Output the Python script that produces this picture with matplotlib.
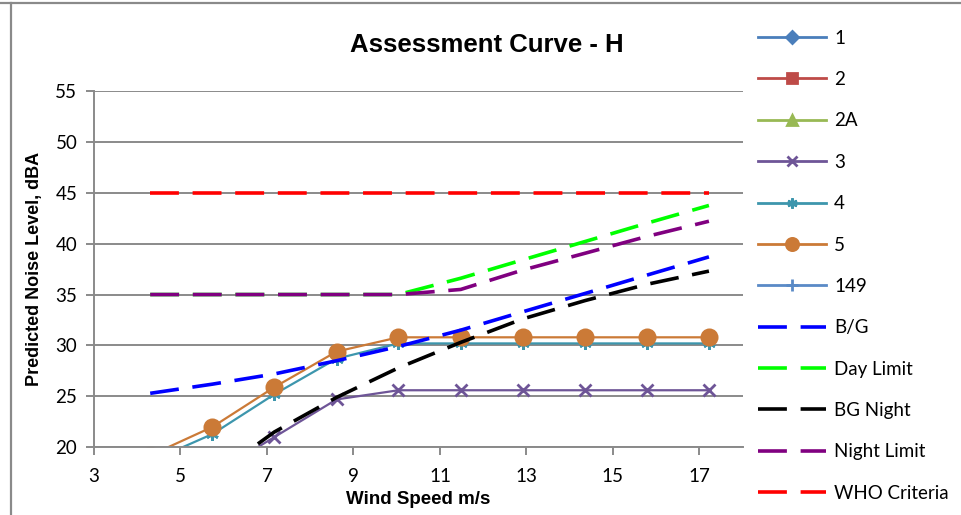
import matplotlib.pyplot as plt
from matplotlib.lines import Line2D

plt.rcParams['font.family'] = ['Lato', 'DejaVu Sans']
bold_font = ['Liberation Sans', 'DejaVu Sans']

# wind speed standardised to 10 m height
wind = [4.30, 5.74, 7.17, 8.61, 10.04, 11.48, 12.91, 14.35, 15.78, 17.22]

# predicted turbine noise at each receptor (dBA); 1, 2, 2A and 149 have no points in range
rec_1 = []
rec_2 = []
rec_2a = []
rec_3 = [13.8, 17.3, 21.0, 24.7, 25.6, 25.6, 25.6, 25.6, 25.6, 25.6]
rec_4 = [18.6, 21.3, 25.2, 28.7, 30.2, 30.2, 30.2, 30.2, 30.2, 30.2]
rec_5 = [19.2, 22.0, 25.9, 29.4, 30.8, 30.8, 30.8, 30.8, 30.8, 30.8]
rec_149 = []

# background levels and limits
bg_day = [25.3, 26.2, 27.2, 28.5, 29.9, 31.5, 33.3, 35.1, 36.9, 38.7]
day_limit = [35.0, 35.0, 35.0, 35.0, 35.0, 36.6, 38.4, 40.2, 42.0, 43.75]
bg_night = [13.6, 17.1, 21.5, 24.9, 27.8, 30.3, 32.6, 34.4, 36.0, 37.3]
night_limit = [35.0, 35.0, 35.0, 35.0, 35.0, 35.5, 37.4, 39.05, 40.7, 42.2]
who_limit = [45.0, 45.0, 45.0, 45.0, 45.0, 45.0, 45.0, 45.0, 45.0, 45.0]

grey = '#8a8a8a'

fig = plt.figure(figsize=(9.61, 5.15), dpi=100)
ax = fig.add_axes([0.0978, 0.1315, 0.675, 0.692])

solid = [
    ('1', [], rec_1, '#4A7EBB', 'D', 8),
    ('2', [], rec_2, '#BE4B48', 's', 8.5),
    ('2A', [], rec_2a, '#98B954', '^', 9),
    ('3', wind, rec_3, '#6E5597', 'x', 9),
    ('4', wind, rec_4, '#3D96AD', (6, 2, 0), 9),
    ('5', wind, rec_5, '#CB7A37', 'o', 11),
    ('149', [], rec_149, '#5A8AC6', '+', 10),
]
handles = []
for name, xs, ys, col, mk, ms in solid:
    ax.plot(xs, ys, color=col, lw=1.6, marker=mk, ms=ms, mew=2, mfc=col,
            mec=col)
    handles.append(Line2D([], [], color=col, lw=2, marker=mk, ms=ms * 0.8,
                          mew=2, mfc=col, mec=col, label=name))

dashed = [
    ('B/G', bg_day, '#0000FF'),
    ('Day Limit', day_limit, '#00FF00'),
    ('BG Night', bg_night, '#000000'),
    ('Night Limit', night_limit, '#800080'),
    ('WHO Criteria', who_limit, '#FF0000'),
]
for name, ys, col in dashed:
    ax.plot(wind, ys, color=col, lw=2.6, dashes=(8, 3.8))
    handles.append(Line2D([], [], color=col, lw=2.6, dashes=(8, 3.8), label=name))

ax.set_xlim(3, 18)
ax.set_ylim(20, 55)
ax.set_xticks(range(3, 18, 2))
ax.set_yticks(range(20, 56, 5))
ax.grid(axis='y', color=grey, lw=1.4)
ax.set_axisbelow(True)
for side in ('top', 'right'):
    ax.spines[side].set_visible(False)
for side in ('left', 'bottom'):
    ax.spines[side].set_color(grey)
    ax.spines[side].set_linewidth(1.4)
ax.tick_params(colors=grey, labelcolor='black', labelsize=13.5, length=6,
               width=1.4)
ax.tick_params(axis='x', pad=9)
ax.tick_params(axis='y', pad=6)

ax.set_xlabel('Wind Speed m/s', fontsize=13.5, fontweight='bold',
              family=bold_font, labelpad=4)
ax.set_ylabel('Predicted Noise Level, dBA', fontsize=13, fontweight='bold',
              family=bold_font, labelpad=9)
fig.text(0.507, 0.912, 'Assessment Curve - H', fontsize=18.5, fontweight='bold',
         family=bold_font, ha='center', va='center')

fig.legend(handles=handles, loc='upper left', bbox_to_anchor=(0.781, 0.957),
           frameon=False, fontsize=13.5, handlelength=3.6, handletextpad=0.45,
           labelspacing=1.30, borderaxespad=0)

# outer chart frame
fig.add_artist(Line2D([0, 1], [0.994, 0.994], color=grey, lw=1.6))
fig.add_artist(Line2D([0.0115, 0.0115], [0, 0.994], color=grey, lw=1.6))

fig.savefig('out.png', dpi=100)
